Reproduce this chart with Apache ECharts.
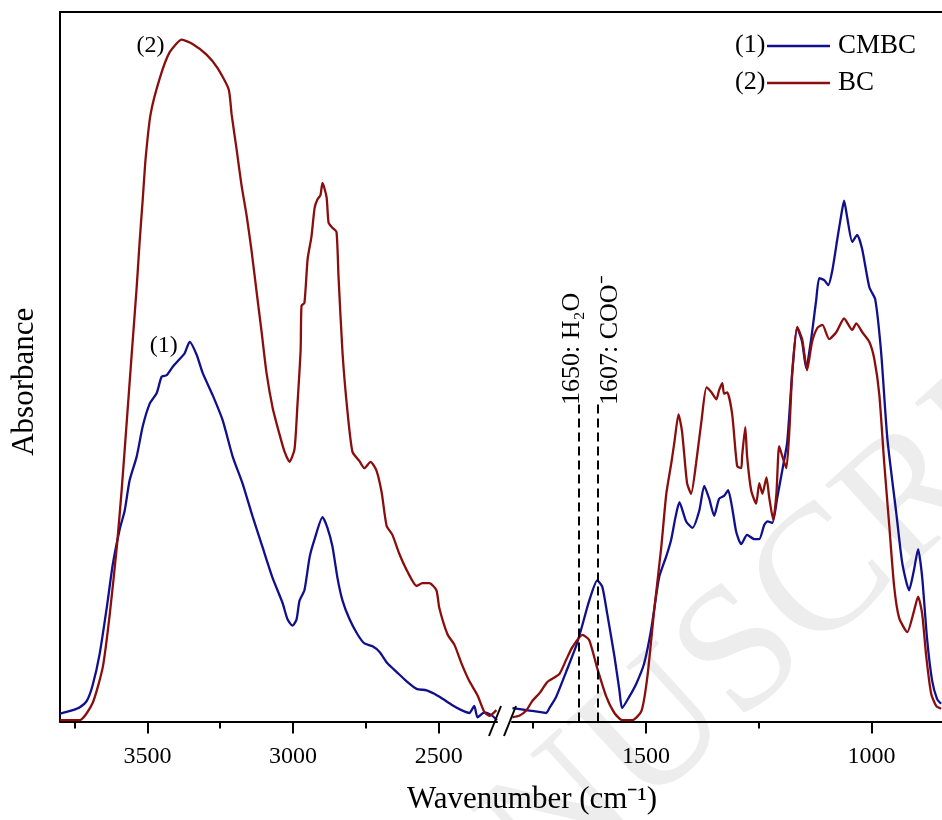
<!DOCTYPE html>
<html><head><meta charset="utf-8">
<script src="https://cdn.jsdelivr.net/npm/echarts@6/dist/echarts.min.js"></script>
<style>html,body{margin:0;padding:0;background:#fff}#c{width:942px;height:820px}</style>
</head><body><div id="c"></div>
<script>
// ---- data (wavenumber cm-1, absorbance a.u.) ----
const cmbcHighWn = [3800,3756,3732,3708,3688,3664,3640,3619,3595,3578,3561,3537,3516,3492,3468,3451,3434,3413,3389,3372,3355,3331,3310,3276,3242,3207,3173,3139,3105,3070,3036,3019,3002,2988,2978,2961,2943,2926,2899,2882,2865,2847,2830,2806,2779,2755,2727,2703,2676,2645,2611,2576,2542,2515,2487,2453,2422,2395,2378,2367,2343,2319,2300];
const cmbcHighAbs = [0.011,0.016,0.020,0.029,0.051,0.095,0.159,0.221,0.271,0.297,0.340,0.373,0.416,0.448,0.463,0.486,0.488,0.500,0.511,0.519,0.535,0.517,0.491,0.460,0.425,0.373,0.335,0.289,0.246,0.202,0.167,0.144,0.135,0.144,0.170,0.185,0.232,0.257,0.288,0.273,0.247,0.201,0.170,0.144,0.123,0.110,0.106,0.098,0.082,0.070,0.057,0.046,0.044,0.039,0.032,0.023,0.016,0.012,0.022,0.006,0.013,0.009,0.002];
const bcHighWn = [3800,3732,3688,3653,3629,3605,3588,3571,3554,3537,3526,3516,3506,3489,3458,3424,3382,3345,3297,3259,3221,3211,3194,3177,3159,3142,3125,3108,3091,3070,3046,3029,3012,2995,2985,2974,2971,2961,2950,2937,2926,2916,2906,2899,2885,2878,2865,2851,2844,2830,2813,2796,2772,2755,2734,2714,2696,2679,2659,2635,2607,2576,2556,2532,2508,2498,2470,2446,2422,2395,2367,2343,2326,2302];
const bcHighAbs = [0.002,0.002,0.026,0.077,0.152,0.246,0.328,0.422,0.517,0.611,0.680,0.736,0.794,0.856,0.906,0.943,0.961,0.955,0.940,0.921,0.891,0.856,0.807,0.756,0.712,0.662,0.605,0.549,0.491,0.442,0.404,0.380,0.366,0.384,0.446,0.524,0.586,0.590,0.652,0.683,0.724,0.736,0.742,0.759,0.739,0.703,0.696,0.690,0.627,0.518,0.436,0.380,0.367,0.357,0.366,0.354,0.323,0.276,0.263,0.236,0.211,0.191,0.195,0.195,0.185,0.160,0.123,0.108,0.082,0.057,0.037,0.013,0.008,0.016];
const cmbcLowWn = [1796,1765,1752,1730,1721,1714,1699,1677,1654,1641,1626,1608,1597,1586,1570,1559,1553,1537,1521,1504,1488,1471,1455,1444,1435,1426,1411,1397,1382,1371,1360,1349,1338,1327,1318,1309,1300,1289,1276,1260,1249,1238,1231,1220,1209,1198,1187,1176,1165,1154,1145,1134,1123,1116,1105,1096,1087,1076,1067,1061,1054,1043,1032,1021,1005,992,979,965,945,932,917,906,897,888,877,866,855,846];
const cmbcLowAbs = [0.019,0.016,0.015,0.013,0.012,0.019,0.035,0.070,0.108,0.136,0.170,0.199,0.190,0.152,0.092,0.044,0.019,0.035,0.054,0.082,0.132,0.203,0.233,0.257,0.287,0.309,0.282,0.273,0.297,0.332,0.314,0.290,0.314,0.318,0.326,0.301,0.267,0.250,0.263,0.257,0.257,0.277,0.282,0.280,0.316,0.354,0.394,0.491,0.555,0.535,0.498,0.539,0.593,0.625,0.622,0.615,0.636,0.680,0.715,0.734,0.710,0.676,0.686,0.666,0.612,0.595,0.521,0.398,0.292,0.223,0.185,0.214,0.243,0.204,0.116,0.058,0.032,0.025];
const bcLowWn = [1796,1781,1765,1752,1736,1721,1714,1692,1677,1663,1641,1626,1608,1588,1570,1553,1530,1510,1497,1482,1466,1455,1444,1437,1428,1420,1409,1400,1389,1377,1366,1355,1344,1338,1331,1327,1320,1309,1298,1289,1287,1280,1276,1267,1256,1249,1242,1233,1227,1218,1211,1205,1198,1189,1182,1176,1165,1154,1143,1132,1120,1109,1094,1078,1061,1043,1034,1021,1005,994,983,972,961,950,939,921,906,897,888,879,868,857,846];
const bcLowAbs = [0.006,0.008,0.016,0.029,0.040,0.054,0.058,0.067,0.087,0.105,0.122,0.115,0.075,0.035,0.012,0.002,0.002,0.015,0.063,0.156,0.247,0.321,0.364,0.394,0.433,0.408,0.336,0.321,0.364,0.424,0.471,0.464,0.454,0.467,0.477,0.462,0.464,0.433,0.360,0.357,0.374,0.415,0.374,0.326,0.307,0.336,0.321,0.344,0.316,0.284,0.321,0.388,0.374,0.357,0.413,0.491,0.556,0.539,0.495,0.535,0.555,0.559,0.539,0.549,0.568,0.552,0.561,0.549,0.535,0.511,0.461,0.364,0.277,0.190,0.146,0.126,0.156,0.176,0.152,0.092,0.039,0.022,0.018];

const leftMajorTicks = [3500, 3000, 2500];
const leftMinorTicks = [3750, 3250, 2750];
const rightMajorTicks = [1500, 1000];
const rightMinorTicks = [1750, 1250];
const bandWn = [1650, 1607];
const bandNames = ['1650: H\u2082O', '1607: COO\u207B'];

const BLUE = '#10108c', RED = '#8a0e0e';
const FONT = "'Liberation Serif', 'Times New Roman', serif";
const zip = (a, b) => a.map((v, i) => [v, b[i]]);

const chart = echarts.init(document.getElementById('c'));
const majorAxis = (grid, min, max, ticks) => ({
  gridIndex: grid, type: 'value', inverse: true, min, max, position: 'bottom',
  axisLine: { show: true, onZero: false, lineStyle: { color: '#000', width: 2 } },
  axisTick: { show: true, customValues: ticks, length: 12, lineStyle: { color: '#000', width: 2 } },
  axisLabel: { show: true, customValues: ticks, margin: 23, fontSize: 24, fontFamily: FONT, color: '#000',
    formatter: v => String(v) },
  splitLine: { show: false }
});
const minorAxis = (grid, min, max, ticks) => ({
  gridIndex: grid, type: 'value', inverse: true, min, max, position: 'bottom',
  axisLine: { show: false, onZero: false },
  axisTick: { show: true, customValues: ticks, length: 7, lineStyle: { color: '#000', width: 2 } },
  axisLabel: { show: false }, splitLine: { show: false }
});

chart.setOption({
  animation: false,
  backgroundColor: '#fff',
  grid: [
    { left: 60, top: 12, width: 437, height: 709.5 },
    { left: 512, top: 12, right: 0, height: 709.5 },
    { left: 60, top: 12, right: 0, height: 709.5 }
  ],
  xAxis: [
    majorAxis(0, 2300, 3800, leftMajorTicks),
    minorAxis(0, 2300, 3800, leftMinorTicks),
    majorAxis(1, 844, 1797, rightMajorTicks),
    minorAxis(1, 844, 1797, rightMinorTicks),
    { gridIndex: 2, type: 'value', position: 'top', min: 0, max: 1,
      axisLine: { show: true, onZero: false, lineStyle: { color: '#000', width: 2 } },
      axisTick: { show: false }, axisLabel: { show: false }, splitLine: { show: false } }
  ],
  yAxis: [
    { gridIndex: 0, type: 'value', min: 0, max: 1,
      axisLine: { show: true, onZero: false, lineStyle: { color: '#000', width: 2 } },
      axisTick: { show: false }, axisLabel: { show: false }, splitLine: { show: false },
      name: 'Absorbance', nameLocation: 'middle', nameRotate: 90, nameGap: 20,
      nameTextStyle: { fontSize: 31, fontFamily: FONT, color: '#000', padding: [0, 30, 0, 0] } },
    { gridIndex: 1, type: 'value', min: 0, max: 1, show: false },
    { gridIndex: 2, type: 'value', min: 0, max: 1, show: false }
  ],
  title: {
    text: 'Wavenumber (cm\u207B\u00B9)', left: 402, top: 779,
    textStyle: { fontSize: 31, fontWeight: 'normal', fontFamily: FONT, color: '#000' }
  },
  legend: {
    data: [{ name: 'CMBC', icon: 'rect' }, { name: 'BC', icon: 'rect' }],
    orient: 'vertical', left: 767, top: 31, padding: 0,
    itemWidth: 63, itemHeight: 2.5, itemGap: 7,
    textStyle: { fontSize: 27, fontFamily: FONT, color: '#000', lineHeight: 30, padding: [0, 0, 0, 3] }
  },
  graphic: [
    { type: 'text', left: 735, top: 32, z: 10, style: { text: '(1)', font: "26px 'Liberation Serif'", fill: '#000' } },
    { type: 'text', left: 735, top: 69, z: 10, style: { text: '(2)', font: "26px 'Liberation Serif'", fill: '#000' } },
    { type: 'line', z: 10, shape: { x1: 489, y1: 736, x2: 501, y2: 706 }, style: { stroke: '#000', lineWidth: 2 } },
    { type: 'line', z: 10, shape: { x1: 504, y1: 736, x2: 516, y2: 706 }, style: { stroke: '#000', lineWidth: 2 } },
    { type: 'text', x: 300, y: 1060, rotation: 0.74, z: -10, silent: true,
      style: { text: 'MANUSCRIPT', font: "180px 'Liberation Serif'", fill: '#ededed', verticalAlign: 'middle' } }
  ],
  series: [
    { name: 'CMBC', type: 'line', xAxisIndex: 0, yAxisIndex: 0, data: zip(cmbcHighWn, cmbcHighAbs),
      symbol: 'none', smooth: 0.2, lineStyle: { color: BLUE, width: 2.3 }, itemStyle: { color: BLUE },
      markPoint: { symbol: 'circle', symbolSize: 0, silent: true,
        label: { show: true, formatter: p => p.name, fontSize: 24, fontFamily: FONT, color: '#000' },
        data: [{ name: '(1)', coord: [3444, 0.529] }] } },
    { name: 'CMBC', type: 'line', xAxisIndex: 2, yAxisIndex: 1, data: zip(cmbcLowWn, cmbcLowAbs),
      symbol: 'none', smooth: 0.2, lineStyle: { color: BLUE, width: 2.3 }, itemStyle: { color: BLUE } },
    { name: 'BC', type: 'line', xAxisIndex: 0, yAxisIndex: 0, data: zip(bcHighWn, bcHighAbs),
      symbol: 'none', smooth: 0.2, lineStyle: { color: RED, width: 2.3 }, itemStyle: { color: RED },
      markPoint: { symbol: 'circle', symbolSize: 0, silent: true,
        label: { show: true, formatter: p => p.name, fontSize: 24, fontFamily: FONT, color: '#000' },
        data: [{ name: '(2)', coord: [3489, 0.953] }] } },
    { name: 'BC', type: 'line', xAxisIndex: 2, yAxisIndex: 1, data: zip(bcLowWn, bcLowAbs),
      symbol: 'none', smooth: 0.2, lineStyle: { color: RED, width: 2.3 }, itemStyle: { color: RED },
      markLine: { silent: true, symbol: ['none', 'none'], label: { show: false },
        lineStyle: { color: '#000', width: 2, type: [9, 5] },
        data: bandWn.map(w => [{ coord: [w, 0] }, { coord: [w, 0.451] }]) },
      markPoint: { symbol: 'circle', symbolSize: 0, silent: true,
        label: { show: true, rotate: 90, formatter: p => p.name, fontSize: 26, fontFamily: FONT, color: '#000' },
        data: bandWn.map((w, i) => ({ name: bandNames[i], coord: [w, 0.446],
          label: { align: 'left', verticalAlign: i === 0 ? 'bottom' : 'top', lineHeight: i === 0 ? 12 : 24 } })) } }
  ]
});
</script></body></html>
